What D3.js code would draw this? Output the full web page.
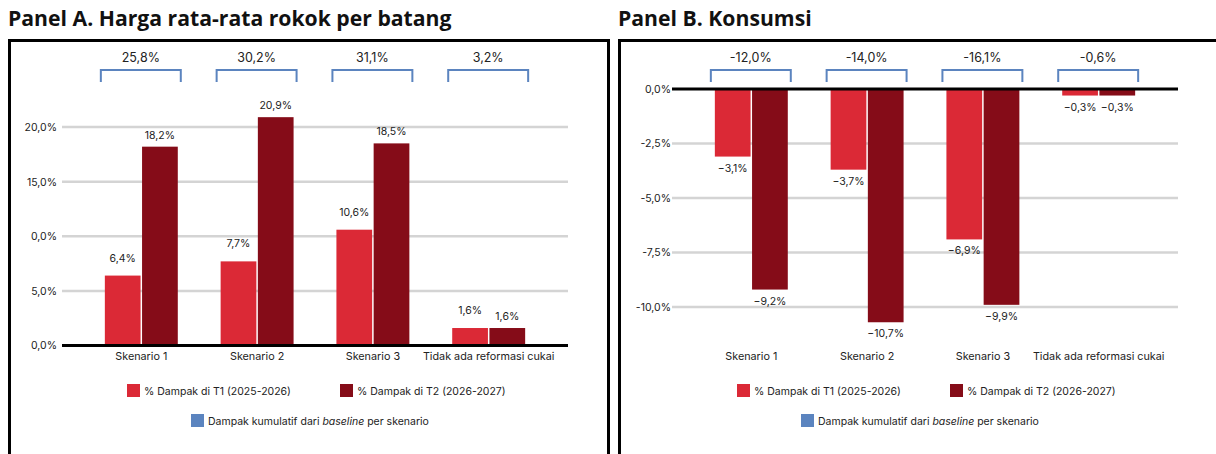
<!DOCTYPE html>
<html>
<head>
<meta charset="utf-8">
<script src="https://cdn.jsdelivr.net/npm/d3@7"></script>
<style>
  html, body { margin: 0; padding: 0; background: #fff; }
  svg { display: block; }
  .title { font-family: "Open Sans", "Noto Sans", sans-serif; font-weight: 700; }
  .lbl { font-family: Inter, "Noto Sans", sans-serif; fill: #222; }
</style>
</head>
<body>
<svg id="chart" width="1216" height="454"></svg>
<script>
// ---- data ----
const categories = ["Skenario 1", "Skenario 2", "Skenario 3", "Tidak ada reformasi cukai"];
const seriesNames = ["% Dampak di T1 (2025-2026)", "% Dampak di T2 (2026-2027)"];
const cumulativeLabel = ["Dampak kumulatif dari ", "baseline", " per skenario"];

const priceT1 = [6.4, 7.7, 10.6, 1.6];
const priceT2 = [18.2, 20.9, 18.5, 1.6];
const priceCumulative = ["25,8%", "30,2%", "31,1%", "3,2%"];
const priceTicks = [0, 5, 10, 15, 20];
const priceTickLabels = ["0,0%", "5,0%", "0,0%", "15,0%", "20,0%"];

const consT1 = [-3.1, -3.7, -6.9, -0.3];
const consT2 = [-9.2, -10.7, -9.9, -0.3];
const consCumulative = ["-12,0%", "-14,0%", "-16,1%", "-0,6%"];
const consTicks = [0, -2.5, -5, -7.5, -10];
const consTickLabels = ["0,0%", "-2,5%", "-5,0%", "-7,5%", "-10,0%"];

const titles = ["Panel A. Harga rata-rata rokok per batang", "Panel B. Konsumsi"];

// ---- style ----
const colT1 = "#DB2936";
const colT2 = "#850C18";
const colBlue = "#5B84BF";
const colGrid = "#D4D4D4";

const svg = d3.select("#chart");
const fmt = v => d3.format(".1f")(v).replace(".", ",") + "%";

function panel(opt) {
  const g = svg.append("g").attr("transform", `translate(${opt.dx},0)`);

  // title
  svg.append("text").attr("class", "title")
    .attr("x", opt.dx + 8).attr("y", 26)
    .attr("font-size", 21.2).attr("fill", "#111")
    .text(opt.title);

  // frame
  g.append("rect")
    .attr("x", opt.frameX).attr("y", 40.5)
    .attr("width", opt.frameW).attr("height", 440)
    .attr("fill", "none").attr("stroke", "#000").attr("stroke-width", 3);

  const x0 = d3.scaleBand().domain(categories).range([62, 568])
    .paddingInner(0.37).paddingOuter(0.37);
  const x1 = d3.scaleBand().domain(seriesNames).range([0, x0.bandwidth()])
    .paddingInner(0.04);
  const y = d3.scaleLinear().domain(opt.domain).range(opt.range);

  // gridlines
  g.append("g").selectAll("line").data(opt.ticks.filter(t => t !== 0))
    .join("line")
    .attr("x1", 62).attr("x2", 568)
    .attr("y1", d => y(d)).attr("y2", d => y(d))
    .attr("stroke", colGrid).attr("stroke-width", 2.5);

  // y axis tick labels
  const yAxis = d3.axisLeft(y).tickValues(opt.ticks)
    .tickFormat((d, i) => opt.tickLabels[i]).tickSize(0).tickPadding(0);
  const ya = g.append("g").attr("transform", `translate(${opt.tickX},0)`).call(yAxis);
  ya.select(".domain").remove();
  ya.selectAll("text").attr("class", "lbl").attr("font-size", 10.5)
    .attr("font-family", "Inter, 'Noto Sans', sans-serif").attr("fill", "#222");

  // bars
  const rows = categories.map((c, i) => ({ cat: c, vals: [opt.t1[i], opt.t2[i]] }));
  const grp = g.append("g").selectAll("g").data(rows).join("g")
    .attr("transform", d => `translate(${x0(d.cat)},0)`);
  grp.selectAll("rect").data(d => d.vals.map((v, k) => ({ v, k })))
    .join("rect")
    .attr("x", d => x1(seriesNames[d.k]))
    .attr("width", x1.bandwidth())
    .attr("y", d => Math.min(y(0), y(d.v)))
    .attr("height", d => Math.abs(y(d.v) - y(0)))
    .attr("fill", d => d.k === 0 ? colT1 : colT2);
  grp.selectAll("text").data(d => d.vals.map((v, k) => ({ v, k })))
    .join("text").attr("class", "lbl")
    .attr("font-size", 10.5).attr("text-anchor", "middle")
    .attr("x", d => x1(seriesNames[d.k]) + x1.bandwidth() / 2)
    .attr("y", d => d.v >= 0 ? y(d.v) - (d.k === 0 ? 14 : 8) : y(d.v) + 15)
    .text(d => fmt(d.v));

  // zero axis line
  g.append("line").attr("x1", 62).attr("x2", 568)
    .attr("y1", y(0)).attr("y2", y(0))
    .attr("stroke", "#000").attr("stroke-width", 3);

  // category labels
  const xAxis = d3.axisBottom(x0).tickSize(0).tickPadding(0);
  const xa = g.append("g").attr("transform", "translate(0,360)").call(xAxis);
  xa.select(".domain").remove();
  xa.selectAll("text").attr("font-size", 10.8).attr("dy", 0)
    .attr("font-family", "Inter, 'Noto Sans', sans-serif").attr("fill", "#222");

  // cumulative brackets
  const br = g.append("g").selectAll("g").data(categories).join("g");
  br.append("path")
    .attr("d", d => {
      const a = x0(d) - 4, b = x0(d) + x0.bandwidth() + 3;
      return `M${a},82V70H${b}V82`;
    })
    .attr("fill", "none").attr("stroke", colBlue).attr("stroke-width", 2);
  br.append("text").attr("class", "lbl")
    .attr("font-size", 12.5).attr("text-anchor", "middle")
    .attr("x", d => x0(d) + x0.bandwidth() / 2 - 0.5).attr("y", 62)
    .text((d, i) => opt.cum[i]);

  // legend
  const lg = g.append("g");
  const items = [{ x: 127, y: 384, c: colT1, t: seriesNames[0] },
                 { x: 340, y: 384, c: colT2, t: seriesNames[1] }];
  items.forEach(it => {
    lg.append("rect").attr("x", it.x).attr("y", it.y).attr("width", 13).attr("height", 13).attr("fill", it.c);
    lg.append("text").attr("class", "lbl").attr("font-size", 10.5)
      .attr("x", it.x + 17).attr("y", it.y + 10.5).text(it.t);
  });
  lg.append("rect").attr("x", 191).attr("y", 414).attr("width", 13).attr("height", 13).attr("fill", colBlue);
  const t3 = lg.append("text").attr("class", "lbl").attr("font-size", 10.5)
    .attr("x", 208).attr("y", 424.5);
  t3.append("tspan").text(cumulativeLabel[0]);
  t3.append("tspan").attr("font-style", "italic").text(cumulativeLabel[1]);
  t3.append("tspan").text(cumulativeLabel[2]);
}

panel({ dx: 0, title: titles[0], frameX: 9.5, frameW: 599, tickX: 57,
  domain: [0, 20], range: [345.5, 127], ticks: priceTicks, tickLabels: priceTickLabels,
  t1: priceT1, t2: priceT2, cum: priceCumulative });
panel({ dx: 610, title: titles[1], frameX: 9.5, frameW: 700, tickX: 61,
  domain: [0, -10], range: [89, 307], ticks: consTicks, tickLabels: consTickLabels,
  t1: consT1, t2: consT2, cum: consCumulative });
</script>
</body>
</html>
